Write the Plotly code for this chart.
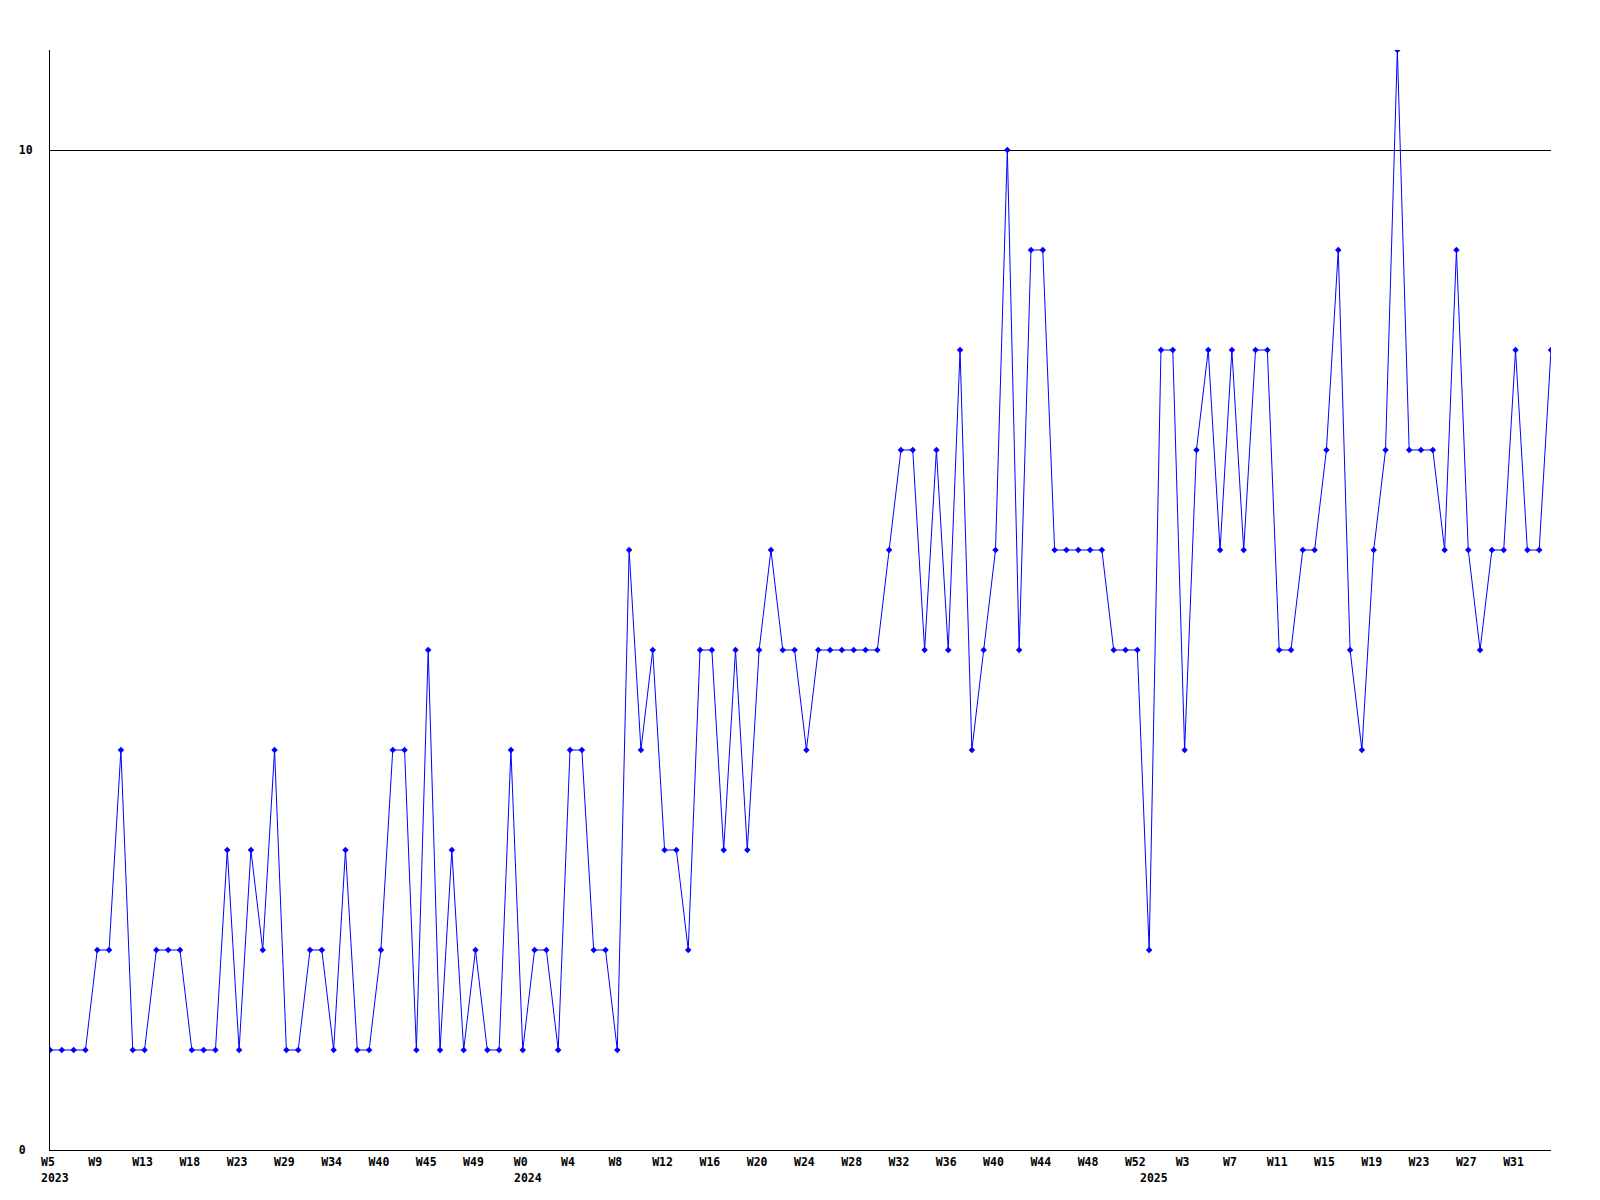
import plotly.graph_objects as go

# weekly values (one per data point, in order)
values = [1, 1, 1, 1, 2, 2, 4, 1, 1, 2, 2, 2, 1, 1, 1, 3, 1, 3, 2, 4,
          1, 1, 2, 2, 1, 3, 1, 1, 2, 4, 4, 1, 5, 1, 3, 1, 2, 1, 1, 4,
          1, 2, 2, 1, 4, 4, 2, 2, 1, 6, 4, 5, 3, 3, 2, 5, 5, 3, 5, 3,
          5, 6, 5, 5, 4, 5, 5, 5, 5, 5, 5, 6, 7, 7, 5, 7, 5, 8, 4, 5,
          6, 10, 5, 9, 9, 6, 6, 6, 6, 6, 5, 5, 5, 2, 8, 8, 4, 7, 8, 6,
          8, 6, 8, 8, 5, 5, 6, 6, 7, 9, 5, 4, 6, 7, 11, 7, 7, 7, 6, 9,
          6, 5, 6, 6, 8, 6, 6, 8]

# week tick labels (every 4th point)
week_labels = ["W5", "W9", "W13", "W18", "W23", "W29", "W34", "W40", "W45", "W49",
               "W0", "W4", "W8", "W12", "W16", "W20", "W24", "W28", "W32", "W36",
               "W40", "W44", "W48", "W52", "W3", "W7", "W11", "W15", "W19", "W23",
               "W27", "W31"]
week_label_step = 4

# year labels and the point index where each year begins
year_labels = ["2023", "2024", "2025"]
year_start_index = [0, 40, 93]

y_ticks = [0, 10]

x = list(range(len(values)))
tick_positions = [i * week_label_step for i in range(len(week_labels))]

FONT = "DejaVu Sans Mono"
FSIZE = 11.5

fig = go.Figure()
fig.add_trace(go.Scatter(
    x=x, y=values, mode="lines+markers",
    line=dict(color="#0000ff", width=1),
    marker=dict(symbol="diamond", size=5, color="#0000ff"),
    showlegend=False, hoverinfo="x+y",
))

for lab, idx in zip(year_labels, year_start_index):
    fig.add_annotation(
        x=idx, y=0, xref="x", yref="paper", text="<b>%s</b>" % lab,
        showarrow=False, xanchor="left", yanchor="middle",
        xshift=-11, yshift=-28,
        font=dict(family=FONT, size=FSIZE, color="black"),
    )

# y labels are left-aligned in the reference: pad to equal width
ylab_width = max(len(str(v)) for v in y_ticks)
y_ticktext = ["<b>%s</b>" % (str(v) + "\u00a0" * (ylab_width - len(str(v)))) for v in y_ticks]

fig.update_layout(
    width=1600, height=1200,
    margin=dict(l=50, r=49, t=50, b=50),
    paper_bgcolor="white", plot_bgcolor="white",
    font=dict(family=FONT, size=FSIZE, color="black"),
)
fig.update_xaxes(
    range=[0, len(values) - 1],
    tickmode="array", tickvals=tick_positions,
    ticktext=["<b>%s</b>" % t for t in week_labels],
    showgrid=False, zeroline=False,
    showline=True, linecolor="black", linewidth=1,
    ticks="", tickangle=0, ticklabelshift=-2, ticklabelstandoff=1,
    tickfont=dict(family=FONT, size=FSIZE, color="black"),
)
fig.update_yaxes(
    range=[0, 11],
    tickmode="array", tickvals=y_ticks,
    ticktext=y_ticktext,
    showgrid=True, gridcolor="black", gridwidth=1,
    zeroline=False,
    showline=True, linecolor="black", linewidth=1,
    ticks="", ticklabelstandoff=14,
    tickfont=dict(family=FONT, size=FSIZE, color="black"),
)

fig.write_html(
    "out.html",
    config={"displayModeBar": False},
    post_script="document.body.style.margin='0px';",
)
